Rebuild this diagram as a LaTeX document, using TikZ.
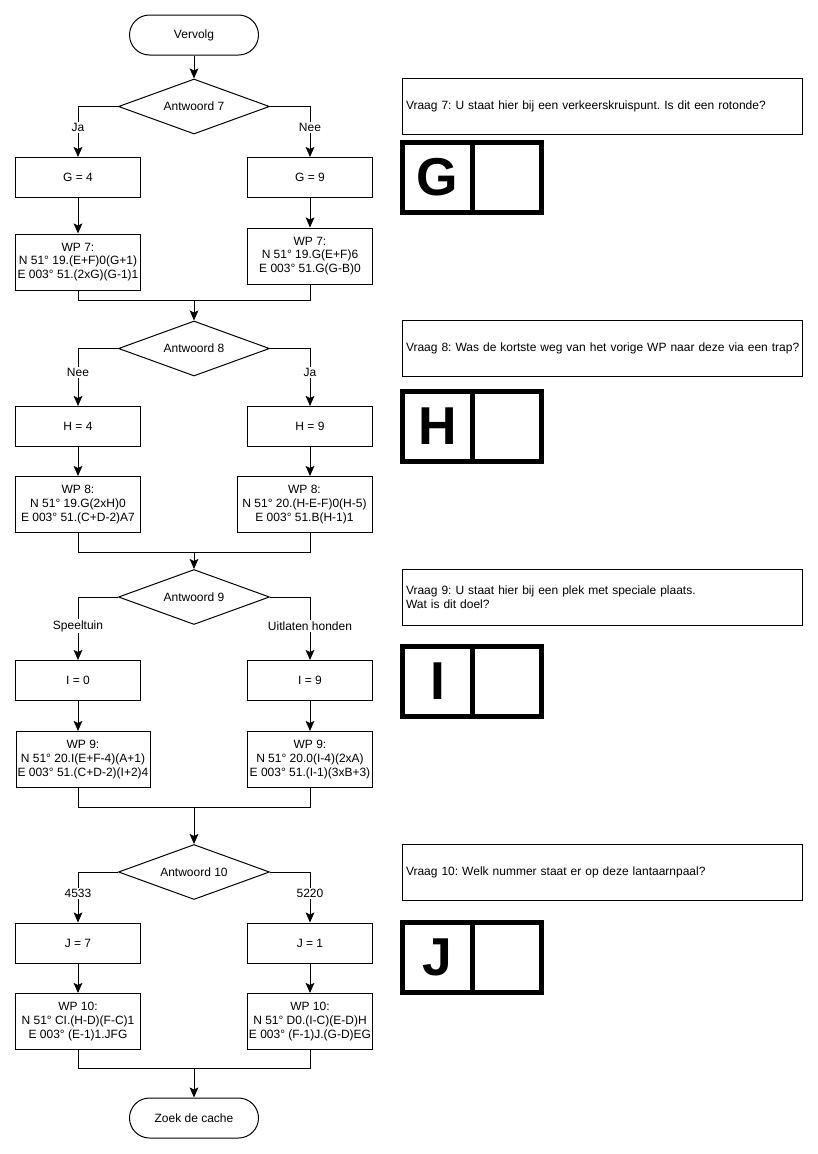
\documentclass[tikz,border=0pt]{standalone}
\usepackage{fontspec}
\setmainfont{Liberation Sans}
\usetikzlibrary{shapes.geometric,arrows.meta}
\frenchspacing
\begin{document}
\begin{tikzpicture}[x=0.75pt,y=-0.75pt,
 every node/.style={font=\fontsize{9}{10.2}\selectfont},
 base/.style={draw, line width=0.75pt, align=center, inner sep=1pt},
 term/.style={base, rounded corners=15pt, minimum width=96.75pt, minimum height=30pt},
 dec/.style={base, diamond, aspect=2.75, minimum width=113.25pt, minimum height=41.25pt, inner sep=0pt},
 proc/.style={base, minimum width=93.75pt, minimum height=30pt},
 wp/.style={base, minimum width=93.75pt, minimum height=42pt},
 vraag/.style={draw, line width=0.75pt, minimum width=300pt, minimum height=42pt, text width=294pt, inner xsep=3pt, align=left},
 cell/.style={draw, line width=3.75pt, minimum width=52.5pt, minimum height=52.5pt, inner sep=0pt, font=\fontsize{40}{40}\selectfont\bfseries},
 arr/.style={line width=0.75pt, -{Stealth[length=7.5pt,width=6.5pt,inset=1.5pt]}},
 ln/.style={line width=0.75pt},
 lbl/.style={fill=white, inner sep=1pt}]
\useasboundingbox (0,0) rectangle (818,1154);

% ---- flow nodes ----
\node[term] (v) at (194,35) {Vervolg};
\node[dec] (d7) at (194,106.5) {Antwoord 7};
\node[proc] (g4) at (78,177.5) {G = 4};
\node[proc] (g9) at (310,177.5) {G = 9};
\node[wp] (wp7l) at (78,262) {WP 7:\\N 51° 19.(E+F)0(G+1)\\E 003° 51.(2xG)(G-1)1};
\node[wp] (wp7r) at (310,256) {WP 7:\\N 51° 19.G(E+F)6\\E 003° 51.G(G-B)0};
\coordinate (m7) at (194,300);

\node[dec] (d8) at (194,348.5) {Antwoord 8};
\node[proc] (h4) at (78,426.5) {H = 4};
\node[proc] (h9) at (310,426.5) {H = 9};
\node[wp] (wp8l) at (78,504.5) {WP 8:\\N 51° 19.G(2xH)0\\E 003° 51.(C+D-2)A7};
\node[wp, minimum width=101.25pt] (wp8r) at (304.5,504.5) {WP 8:\\N 51° 20.(H-E-F)0(H-5)\\E 003° 51.B(H-1)1};
\coordinate (m8) at (194,552);

\node[dec] (d9) at (194,597) {Antwoord 9};
\node[proc] (i0) at (78,680.5) {I = 0};
\node[proc] (i9) at (310,680.5) {I = 9};
\node[wp, minimum width=100.5pt] (wp9l) at (83,759.5) {WP 9:\\N 51° 20.I(E+F-4)(A+1)\\E 003° 51.(C+D-2)(I+2)4};
\node[wp] (wp9r) at (310,759.5) {WP 9:\\N 51° 20.0(I-4)(2xA)\\E 003° 51.(I-1)(3xB+3)};
\coordinate (m9) at (194,807);

\node[dec] (d10) at (194,872) {Antwoord 10};
\node[proc] (j7) at (78,943) {J = 7};
\node[proc] (j1) at (310,943) {J = 1};
\node[wp] (wp10l) at (78,1021.5) {WP 10:\\N 51° CI.(H-D)(F-C)1\\E 003° (E-1)1.JFG};
\node[wp] (wp10r) at (310,1021.5) {WP 10:\\N 51° D0.(I-C)(E-D)H\\E 003° (F-1)J.(G-D)EG};
\coordinate (m10) at (194,1068);
\node[term] (z) at (194,1118) {Zoek de cache};

% ---- connectors ----
\draw[arr] (v) -- (d7);
\draw[arr] (d7.west) -| node[lbl,pos=0.71]{Ja} (g4.north);
\draw[arr] (d7.east) -| node[lbl,pos=0.71]{Nee} (g9.north);
\draw[arr] (g4) -- (wp7l);
\draw[arr] (g9) -- (wp7r);
\draw[ln] (wp7l.south) |- (m7);
\draw[ln] (wp7r.south) |- (m7);
\draw[arr] (m7) -- (d8.north);

\draw[arr] (d8.west) -| node[lbl,pos=0.71]{Nee} (h4.north);
\draw[arr] (d8.east) -| node[lbl,pos=0.71]{Ja} (h9.north);
\draw[arr] (h4) -- (wp8l);
\draw[arr] (h9) -- (h9 |- wp8r.north);
\draw[ln] (wp8l.south) |- (m8);
\draw[ln] (h9 |- wp8r.south) |- (m8);
\draw[arr] (m8) -- (d9.north);

\draw[arr] (d9.west) -| node[lbl,pos=0.73]{Speeltuin} (i0.north);
\draw[arr] (d9.east) -| node[lbl,pos=0.73]{Uitlaten honden} (i9.north);
\draw[arr] (i0) -- (i0 |- wp9l.north);
\draw[arr] (i9) -- (wp9r);
\draw[ln] (i0 |- wp9l.south) |- (m9);
\draw[ln] (wp9r.south) |- (m9);
\draw[arr] (m9) -- (d10.north);

\draw[arr] (d10.west) -| node[lbl,pos=0.71]{4533} (j7.north);
\draw[arr] (d10.east) -| node[lbl,pos=0.71]{5220} (j1.north);
\draw[arr] (j7) -- (wp10l);
\draw[arr] (j1) -- (wp10r);
\draw[ln] (wp10l.south) |- (m10);
\draw[ln] (wp10r.south) |- (m10);
\draw[arr] (m10) -- (z);

% ---- questions ----
\node[vraag] (q7) at (602,106) {\mbox{Vraag 7: U staat hier bij een verkeerskruispunt. Is dit een rotonde?}};
\node[vraag] (q8) at (602,348) {\mbox{Vraag 8: Was de kortste weg van het vorige WP naar deze via een trap?}};
\node[vraag] (q9) at (602,597) {Vraag 9: U staat hier bij een plek met speciale plaats.\\Wat is dit doel?};
\node[vraag] (q10) at (602,872) {\mbox{Vraag 10: Welk nummer staat er op deze lantaarnpaal?}};

% ---- letter boxes ----
\node[cell] (cg) at (437.5,177.5) {\raisebox{-1.5pt}{G}};
\node[cell, minimum width=51.75pt] (cg2) at (507,177.5) {};
\node[cell] (ch) at (437.5,426) {\raisebox{-1.5pt}{H}};
\node[cell, minimum width=51.75pt] (ch2) at (507,426) {};
\node[cell] (ci) at (437.5,681.5) {\raisebox{-1.5pt}{I}};
\node[cell, minimum width=51.75pt] (ci2) at (507,681.5) {};
\node[cell] (cj) at (437.5,957.5) {\raisebox{-1.5pt}{J}};
\node[cell, minimum width=51.75pt] (cj2) at (507,957.5) {};
\end{tikzpicture}
\end{document}
